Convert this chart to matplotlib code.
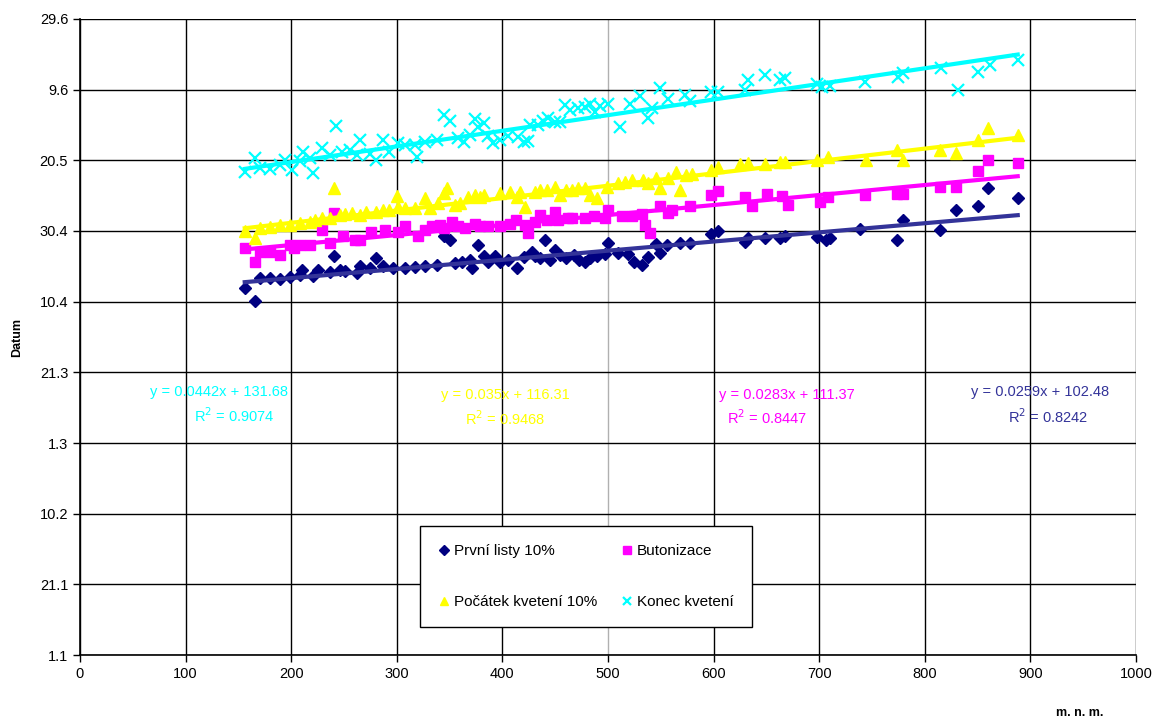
import matplotlib.pyplot as plt
import numpy as np

plt.rcParams['font.family'] = ['Liberation Sans', 'DejaVu Sans']

# nadmorska vyska [m n. m.] a den v roce (prestupny rok, 1 = 1.1.)
x_listy = [156, 166, 170, 180, 189, 199, 208, 210, 221, 225, 237, 241, 246, 251, 262, 265,
           275, 280, 287, 296, 308, 317, 327, 338, 345, 350, 355, 362, 369, 371, 377, 383,
           386, 393, 398, 405, 414, 420, 428, 431, 436, 440, 445, 450, 455, 460, 468, 473,
           478, 483, 490, 497, 500, 509, 519, 525, 532, 538, 545, 549, 556, 568, 578, 598,
           604, 630, 633, 649, 663, 668, 698, 706, 710, 739, 774, 779, 814, 830, 850, 860, 888]
y_listy = [104.9, 101.2, 107.7, 107.7, 107.4, 108.0, 108.6, 110.0, 108.3, 110.0, 109.4, 114.0,
           110.0, 109.7, 109.1, 111.0, 110.5, 113.4, 111.0, 110.5, 110.5, 110.8, 111.0, 111.4,
           119.6, 118.5, 112.0, 112.2, 112.8, 110.5, 117.0, 114.0, 112.2, 114.0, 112.2, 112.8,
           110.5, 113.6, 115.0, 114.0, 113.4, 118.5, 112.8, 115.6, 114.2, 113.4, 114.2, 112.8,
           112.2, 113.4, 114.0, 114.5, 117.6, 114.8, 114.5, 112.2, 111.4, 113.6, 117.3, 114.8,
           117.0, 117.6, 117.6, 120.2, 121.0, 117.9, 119.0, 119.0, 119.0, 119.6, 119.3, 118.5,
           119.0, 121.6, 118.5, 124.1, 121.3, 127.0, 128.1, 133.2, 130.4]

x_buton = [156, 166, 170, 180, 189, 199, 203, 208, 218, 229, 237, 241, 249, 260, 265, 276,
           289, 301, 308, 320, 327, 333, 341, 345, 352, 358, 365, 374, 379, 386, 398, 407,
           413, 421, 424, 431, 436, 442, 450, 453, 462, 466, 478, 487, 497, 500, 513, 523,
           532, 535, 540, 549, 557, 561, 578, 598, 604, 630, 636, 651, 665, 670, 701, 708,
           743, 774, 779, 814, 830, 850, 860, 888]
y_buton = [116.2, 112.2, 115.0, 115.0, 114.2, 117.0, 116.2, 117.0, 117.0, 121.3, 117.6, 126.1,
           119.6, 118.5, 118.5, 120.7, 121.3, 120.7, 122.4, 119.6, 121.3, 122.4, 122.7, 121.9,
           123.6, 122.4, 121.9, 123.0, 122.4, 122.4, 122.4, 123.0, 124.1, 122.7, 120.4, 123.6,
           125.5, 124.1, 126.4, 124.1, 124.7, 124.7, 124.7, 125.3, 124.7, 127.0, 125.3, 125.3,
           125.8, 122.7, 120.4, 128.1, 126.1, 127.0, 128.1, 131.2, 132.3, 130.6, 128.1, 131.5,
           130.9, 128.4, 129.2, 130.6, 131.2, 131.5, 131.5, 133.5, 133.5, 138.0, 141.1, 140.3]

x_pocatek = [156, 166, 170, 180, 189, 199, 208, 218, 223, 229, 237, 241, 246, 251, 258, 265,
             271, 280, 287, 293, 300, 301, 308, 317, 327, 331, 339, 345, 348, 355, 360, 367,
             374, 379, 383, 398, 407, 414, 417, 421, 431, 436, 442, 450, 455, 460, 466, 472,
             478, 483, 490, 499, 509, 516, 523, 533, 538, 545, 549, 557, 564, 568, 574, 580,
             598, 604, 625, 633, 649, 663, 668, 698, 708, 744, 774, 779, 814, 830, 850, 860, 888]
y_pocatek = [121.0, 119.0, 121.9, 122.1, 122.7, 122.7, 123.3, 123.6, 124.1, 124.7, 124.7, 133.2,
             125.5, 125.8, 126.1, 125.5, 126.4, 126.4, 127.0, 127.0, 130.9, 127.8, 127.6, 127.6,
             130.4, 127.6, 128.9, 131.8, 133.2, 128.4, 128.9, 130.6, 131.2, 130.6, 131.2, 131.8,
             132.0, 130.6, 132.0, 127.8, 132.0, 132.6, 132.6, 133.5, 131.2, 132.6, 132.6, 133.2,
             133.2, 131.2, 130.4, 133.5, 134.6, 134.9, 135.4, 135.4, 134.6, 136.0, 133.2, 136.0,
             137.7, 132.6, 136.9, 137.2, 138.3, 139.1, 140.0, 140.3, 140.0, 140.5, 140.5, 141.1,
             141.9, 141.1, 143.9, 141.1, 143.9, 143.1, 146.8, 150.2, 148.2]

x_konec = [156, 166, 170, 180, 189, 194, 201, 208, 211, 218, 221, 229, 237, 242, 248, 256,
           262, 265, 275, 280, 287, 293, 301, 308, 317, 319, 327, 338, 345, 350, 358, 364,
           369, 374, 377, 383, 386, 391, 398, 405, 415, 420, 424, 426, 434, 438, 443, 450,
           455, 459, 464, 472, 478, 483, 488, 492, 500, 511, 521, 530, 538, 542, 549, 557,
           573, 578, 598, 604, 630, 633, 649, 663, 668, 698, 703, 710, 743, 775, 779, 815,
           831, 850, 862, 888]
y_konec = [137.7, 141.7, 138.8, 138.6, 139.7, 141.1, 138.3, 140.8, 143.4, 141.7, 137.4, 144.5,
           142.5, 150.7, 143.4, 143.9, 142.5, 146.8, 142.8, 141.1, 146.8, 143.4, 145.9, 145.4,
           145.4, 141.9, 146.3, 146.8, 153.8, 152.2, 147.3, 146.2, 148.2, 152.8, 150.3, 151.7,
           147.8, 145.9, 146.8, 147.8, 147.6, 146.2, 146.5, 151.0, 151.0, 152.2, 152.9, 151.9,
           151.9, 156.7, 155.3, 155.9, 156.1, 157.0, 154.7, 156.4, 157.0, 150.5, 157.0, 159.2,
           153.0, 155.8, 161.5, 158.4, 159.5, 157.8, 160.4, 160.4, 160.9, 163.7, 165.2, 163.7,
           164.3, 162.6, 161.8, 162.0, 163.2, 164.6, 165.7, 167.1, 160.9, 166.0, 168.0, 169.4]

# linearni trendy z Excelu
trend_k = [0.0259, 0.0283, 0.035, 0.0442]
trend_q = [102.48, 111.37, 116.31, 131.68]
r2 = ['0.8242', '0.8447', '0.9468', '0.9074']

ytick_vals = [1, 21, 41, 61, 81, 101, 121, 141, 161, 181]
ytick_labels = ['1.1', '21.1', '10.2', '1.3', '21.3', '10.4', '30.4', '20.5', '9.6', '29.6']

fig = plt.figure(figsize=(11.56, 7.27), dpi=100)
ax = fig.add_axes([0.0692, 0.099, 0.9135, 0.8749])

h1, = ax.plot(x_listy, y_listy, 'D', color='#000080', ms=6, ls='none', label='První listy 10%')
h2, = ax.plot(x_buton, y_buton, 's', color='#FF00FF', ms=7, ls='none', label='Butonizace')
h3, = ax.plot(x_pocatek, y_pocatek, '^', color='#FFFF00', ms=8, ls='none', label='Počátek kvetení 10%')
h4, = ax.plot(x_konec, y_konec, 'x', color='#00FFFF', ms=8, mew=1.6, ls='none', label='Konec kvetení')

trend_col = ['#333399', '#FF00FF', '#FFFF00', '#00FFFF']
xs = [x_listy, x_buton, x_pocatek, x_konec]
for k, q, c, xx in zip(trend_k, trend_q, trend_col, xs):
    xl = np.array([min(xx), max(xx)])
    ax.plot(xl, k * xl + q, color=c, lw=3, zorder=3)

ax.set_xlim(0, 1000)
ax.set_ylim(1, 181)
ax.set_xticks(np.arange(0, 1001, 100))
ax.set_yticks(ytick_vals)
ax.set_yticklabels(ytick_labels)
ax.tick_params(labelsize=10.5, direction='out', length=5, width=1, color='black')
ax.grid(True, color='black', lw=1)
ax.set_axisbelow(True)
ax.xaxis.get_gridlines()[5].set_color('#b0b0b0')
for s in ['top', 'right']:
    ax.spines[s].set_visible(False)
for s in ['left', 'bottom']:
    ax.spines[s].set_linewidth(1.2)

ax.set_ylabel('Datum', fontsize=9, fontweight='bold', labelpad=12)
fig.text(0.934, 0.015, 'm. n. m.', fontsize=9, fontweight='bold', ha='center')

# rovnice trendu
eq_pos = [(0.909, 0.413), (0.669, 0.409), (0.403, 0.409), (0.132, 0.413)]
eq_txt = ['y = 0.0259x + 102.48', 'y = 0.0283x + 111.37', 'y = 0.035x + 116.31', 'y = 0.0442x + 131.68']
r2_pos = [(0.917, 0.375), (0.651, 0.373), (0.403, 0.372), (0.146, 0.377)]
for (ex, ey), (rx, ry), t, r, c in zip(eq_pos, r2_pos, eq_txt, r2, trend_col):
    ax.text(ex, ey, t, color=c, fontsize=10.5, ha='center', va='center', transform=ax.transAxes)
    ax.text(rx, ry, r'R$^2$ = ' + r, color=c, fontsize=10.5, ha='center', va='center',
            transform=ax.transAxes)

leg = ax.legend(handles=[h1, h3, h2, h4], ncol=2, loc='center', bbox_to_anchor=(0.479, 0.123),
                fontsize=11, frameon=True, fancybox=False, edgecolor='black', framealpha=1,
                labelspacing=2.4, handlelength=0.8, handletextpad=0.2, columnspacing=1.6,
                borderpad=1.2, markerscale=0.8)
leg.get_frame().set_linewidth(1)

fig.savefig('out.png', dpi=100)
